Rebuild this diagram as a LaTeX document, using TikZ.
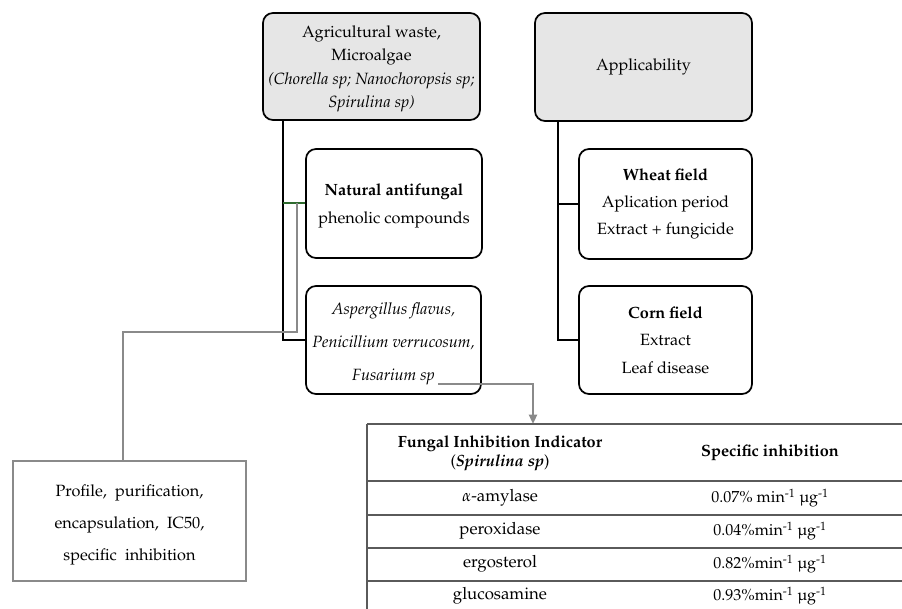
\documentclass[tikz,border=0pt]{standalone}
\usepackage[T1]{fontenc}
\usepackage{mathpazo}
\usetikzlibrary{arrows.meta}
\definecolor{boxgrey}{HTML}{E6E6E6}
\definecolor{linegrey}{HTML}{8A8A8A}
\definecolor{tabline}{HTML}{5A5A5A}
\definecolor{darkgreen}{HTML}{2E6B2E}
\begin{document}
\begin{tikzpicture}[x=0.75pt,y=-0.75pt,
  rbox/.style={draw=black,line width=1.3pt,rounded corners=7.5pt,align=center,
    font=\fontsize{12.2}{20}\selectfont,inner sep=0pt},
  headbox/.style={rbox,fill=boxgrey},
  plainbox/.style={draw=linegrey,line width=1.5pt,align=center,inner sep=0pt},
  txt/.style={align=center,inner sep=0pt},
  blk/.style={draw=black,line width=1.3pt},
  gry/.style={draw=linegrey,line width=1.6pt},
  tline/.style={draw=tabline,line width=1.2pt},
  ttext/.style={font=\fontsize{12.6}{14}\selectfont,align=center,inner sep=0pt}]
\useasboundingbox (0,0) rectangle (902,609);

% boxes
\node[headbox,minimum width=217*0.75pt,minimum height=107*0.75pt] (src) at (371.5,66.5) {};
\node[txt,font=\fontsize{12.2}{17}\selectfont] (srct) at (371.5,69)
  {Agricultural waste,\\ Microalgae\\[1pt] \textit{(Chorella sp; Nanochoropsis sp;}\\ \textit{Spirulina sp)}};
\node[headbox,minimum width=217*0.75pt,minimum height=108*0.75pt] (app) at (643.5,67) {Applicability};
\node[rbox,minimum width=176*0.75pt,minimum height=109*0.75pt] (nat) at (394,203.5) {};
\node[txt,font=\fontsize{12.2}{21}\selectfont] (natt) at (394,206)
  {\textbf{Natural antifungal}\\ phenolic compounds};
\node[rbox,minimum width=175*0.75pt,minimum height=108*0.75pt] (asp) at (393.5,340) {};
\node[txt,font=\fontsize{12.2}{24.5}\selectfont\itshape] (aspt) at (393.5,344)
  {Aspergillus flavus,\\ Penicillium verrucosum,\\ Fusarium sp};
\node[rbox,minimum width=173*0.75pt,minimum height=110*0.75pt,font=\fontsize{12.2}{20.5}\selectfont] (wheat) at (665.5,204)
  {\textbf{Wheat field}\\ Aplication period\\ Extract + fungicide};
\node[rbox,minimum width=173*0.75pt,minimum height=108*0.75pt,font=\fontsize{12.2}{20.5}\selectfont] (corn) at (665.5,340)
  {\textbf{Corn field}\\ Extract\\ Leaf disease};
\node[plainbox,minimum width=233*0.75pt,minimum height=120*0.75pt] (prof) at (129.5,521) {};
\node[txt,font=\fontsize{12.2}{24}\selectfont] (proft) at (129.5,525)
  {Profile,\ \ purification,\\ encapsulation,\ \ IC50,\\ specific\ \ inhibition};

% connector coordinates
\coordinate (t1) at (283,340);
\coordinate (g1) at (283,203);
\coordinate (gs) at (297,203);
\coordinate (gt) at (123,332);
\coordinate (a1) at (558,340);
\coordinate (a2) at (558,204);
\coordinate (fus) at (438,384);
\coordinate (tabtop) at (533,424);

% left trunk
\draw[blk] (src.south -| t1) -- (t1) -- (asp.west |- t1);
\draw[draw=darkgreen,line width=1.3pt] (g1) -- (nat.west |- g1);
\draw[gry] (gs) |- (gt) -- (gt |- prof.north);
% right trunk
\draw[blk] (app.south -| a1) -- (a1) -- (corn.west |- a1);
\draw[blk] (a2) -- (wheat.west |- a2);
% arrow to table
\draw[gry,-{Triangle[length=7pt,width=6pt]}] (fus) -| (tabtop);

% table
\coordinate (tl) at (367,424);
\coordinate (tr) at (902,424);
\draw[tline] (tl) -- (tr);
\draw[tline] (367,481) -- (902,481);
\draw[tline] (367,515) -- (902,515);
\draw[tline] (367,548) -- (902,548);
\draw[tline] (367,581) -- (902,581);
\draw[tline] (tl) -- (367,609);

\node[ttext,font=\fontsize{12.2}{14}\selectfont] (h1) at (500,453) {\textbf{Fungal Inhibition Indicator}\\ (\textbf{\textit{Spirulina sp}})};
\node[ttext,font=\fontsize{12.2}{14}\selectfont] (h2) at (770,453) {\textbf{Specific inhibition}};
\node[ttext] (r1a) at (500,498) {$\alpha$-amylase};
\node[ttext,font=\fontsize{12}{14}\selectfont] (r1b) at (770,498) {0.07\% min\textsuperscript{-1} \textmu g\textsuperscript{-1}};
\node[ttext] (r2a) at (500,531) {peroxidase};
\node[ttext,font=\fontsize{12}{14}\selectfont] (r2b) at (770,531) {0.04\%min\textsuperscript{-1} \textmu g\textsuperscript{-1}};
\node[ttext] (r3a) at (500,564) {ergosterol};
\node[ttext,font=\fontsize{12}{14}\selectfont] (r3b) at (770,564) {0.82\%min\textsuperscript{-1} \textmu g\textsuperscript{-1}};
\node[ttext] (r4a) at (500,596) {glucosamine};
\node[ttext,font=\fontsize{12}{14}\selectfont] (r4b) at (770,596) {0.93\%min\textsuperscript{-1} \textmu g\textsuperscript{-1}};
\end{tikzpicture}
\end{document}
